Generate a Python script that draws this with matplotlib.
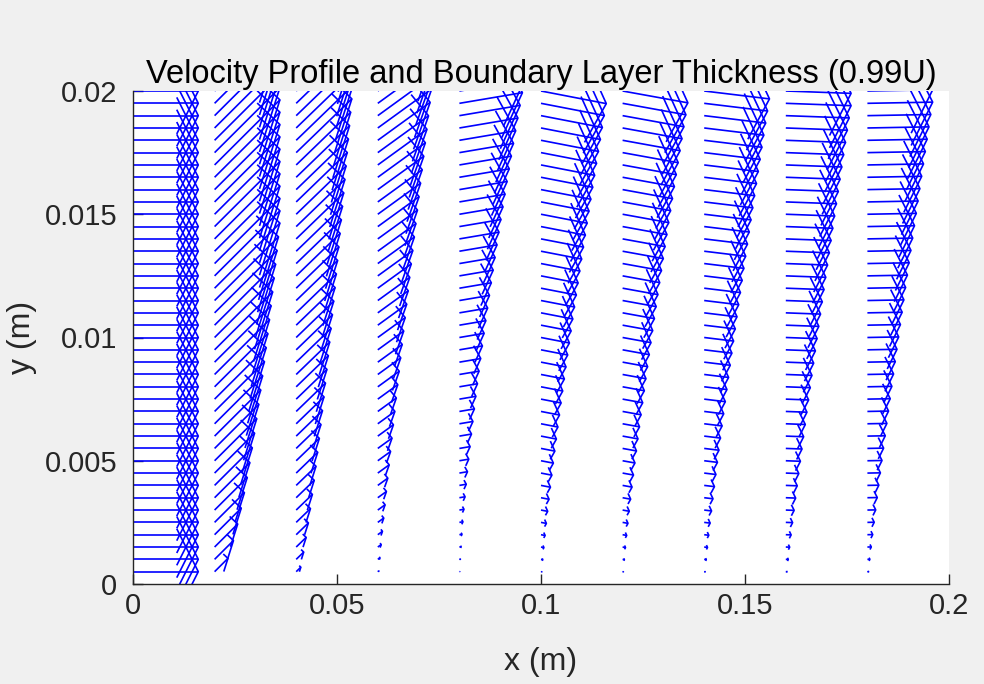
"""
Velocity profile quiver plot, MATLAB-style arrows drawn with a LineCollection.
"""
import numpy as np
import matplotlib
matplotlib.use("Agg")
import matplotlib.pyplot as plt
from matplotlib.collections import LineCollection

# ---------- data ----------
# stations along the plate (m)
x_stations = [0.0, 0.02, 0.04, 0.06, 0.08, 0.10, 0.12, 0.14, 0.16, 0.18]
# wall-normal rows (m)
y_rows = np.linspace(0.0, 0.02, 41)
# free-stream arrow length after quiver autoscale (x data units)
u_edge = 0.016
# height where a column reaches the free stream (m); 0 = leading edge
delta = [0.0, 0.012, 0.022, 0.022, 0.020, 0.020, 0.020, 0.020, 0.0195, 0.0195]
# shape exponent of each column's profile
shape_exp = [1.0, 0.5, 0.7, 1.1, 1.4, 1.2, 1.2, 1.15, 1.1, 1.1]
# v/u ratio of each column (data units)
v_ratio = [0.0, 0.165, 0.16, 0.12, 0.028, -0.032, -0.03, -0.02, -0.006, 0.003]

# MATLAB quiver arrowhead constants
ALPHA = 0.33
BETA = 0.33

BLUE = (0.0, 0.0, 1.0)
AX_COL = (0.15, 0.15, 0.15)
FIG_BG = "#f0f0f0"


def column_vectors(i):
    """u, v for every row of one station."""
    y = y_rows
    if delta[i] == 0:
        u = np.where(y > 0, u_edge, np.nan)
    else:
        eta = np.clip(y / delta[i], 0, 1)
        u = u_edge * eta ** shape_exp[i]
    v = u * v_ratio[i]
    return u, v


def arrow_segments():
    segs = []
    for i, x0 in enumerate(x_stations):
        u, v = column_vectors(i)
        for y0, uu, vv in zip(y_rows, u, v):
            if not np.isfinite(uu) or uu == 0:
                continue
            xt, yt = x0 + uu, y0 + vv
            segs.append([(x0, y0), (xt, yt)])
            segs.append([
                (xt - ALPHA * (uu + BETA * vv), yt - ALPHA * (vv - BETA * uu)),
                (xt, yt),
                (xt - ALPHA * (uu - BETA * vv), yt - ALPHA * (vv + BETA * uu)),
            ])
    return segs


plt.rcParams["font.family"] = ["Liberation Sans", "DejaVu Sans"]

fig = plt.figure(figsize=(9.84, 6.84), dpi=100, facecolor=FIG_BG)
ax = fig.add_axes([133 / 984, 100 / 684, 816 / 984, 493 / 684])
ax.set_facecolor("white")

lc = LineCollection(arrow_segments(), colors=[BLUE], linewidths=1.2)
ax.add_collection(lc)

ax.set_xlim(0, 0.2)
ax.set_ylim(0, 0.02)
ax.set_xticks([0, 0.05, 0.1, 0.15, 0.2])
ax.set_xticklabels(["0", "0.05", "0.1", "0.15", "0.2"])
ax.set_yticks([0, 0.005, 0.01, 0.015, 0.02])
ax.set_yticklabels(["0", "0.005", "0.01", "0.015", "0.02"])

for side in ["top", "right"]:
    ax.spines[side].set_visible(False)
for side in ["left", "bottom"]:
    ax.spines[side].set_color(AX_COL)
    ax.spines[side].set_linewidth(1.0)
ax.tick_params(direction="in", length=7, width=1.0, colors=AX_COL, labelsize=21)
ax.tick_params(axis="y", pad=11.5)
ax.tick_params(axis="x", pad=6)

ax.set_title("Velocity Profile and Boundary Layer Thickness (0.99U)",
             fontsize=23.5, color="black", pad=6)
ax.set_xlabel("x (m)", fontsize=23, color=AX_COL, labelpad=19)
ax.set_ylabel("y (m)", fontsize=23, color=AX_COL, labelpad=5)

fig.savefig("out.png", dpi=100, facecolor=FIG_BG)
